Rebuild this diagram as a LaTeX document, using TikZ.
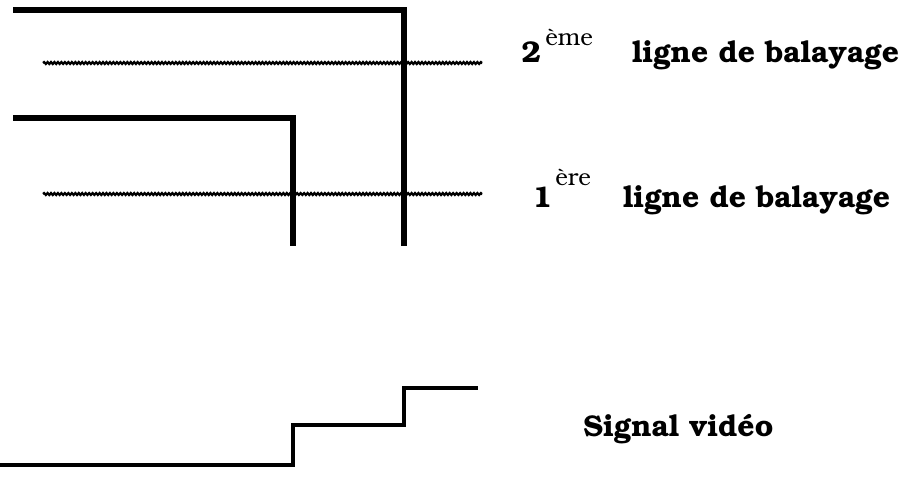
\documentclass[tikz,border=0pt]{standalone}
\usepackage[T1]{fontenc}
\usepackage{bookman}
\usetikzlibrary{decorations.pathmorphing}
\tikzset{
  thickline/.style={line width=4.2pt, line join=miter},
  sigline/.style={line width=3.3pt, line join=miter},
  scanline/.style={line width=1.7pt, decorate, decoration={snake, segment length=2.6pt, amplitude=0.7pt}},
  lbl/.style={anchor=base west, inner sep=0pt, font=\bfseries\fontsize{22.5}{26}\selectfont},
  sup/.style={anchor=base west, inner sep=0pt, font=\fontsize{18}{21}\selectfont}
}
\begin{document}
\begin{tikzpicture}[x=0.75pt,y=-0.75pt]
\useasboundingbox (0,0) rectangle (906,476);
% scan lines
\draw[scanline] (43,63) -- (482,63);
\draw[scanline] (43,194) -- (482,194);
% object edges
\draw[thickline] (13,10) -- (404,10) -- (404,246);
\draw[thickline] (13,118) -- (293,118) -- (293,246);
% video signal
\draw[sigline] (0,465) -- (293,465) -- (293,425) -- (404,425) -- (404,388) -- (478,388);
% labels
\node[lbl] (two) at (521,62) {2};
\node[sup] (eme) at (545,45) {ème};
\node[lbl] (l2) at (632,62) {ligne de balayage};
\node[lbl] (one) at (532,207) {1};
\node[sup] (ere) at (555,185) {ère};
\node[lbl] (l1) at (623,207) {ligne de balayage};
\node[lbl] (sig) at (583,436) {Signal vidéo};
\end{tikzpicture}
\end{document}
